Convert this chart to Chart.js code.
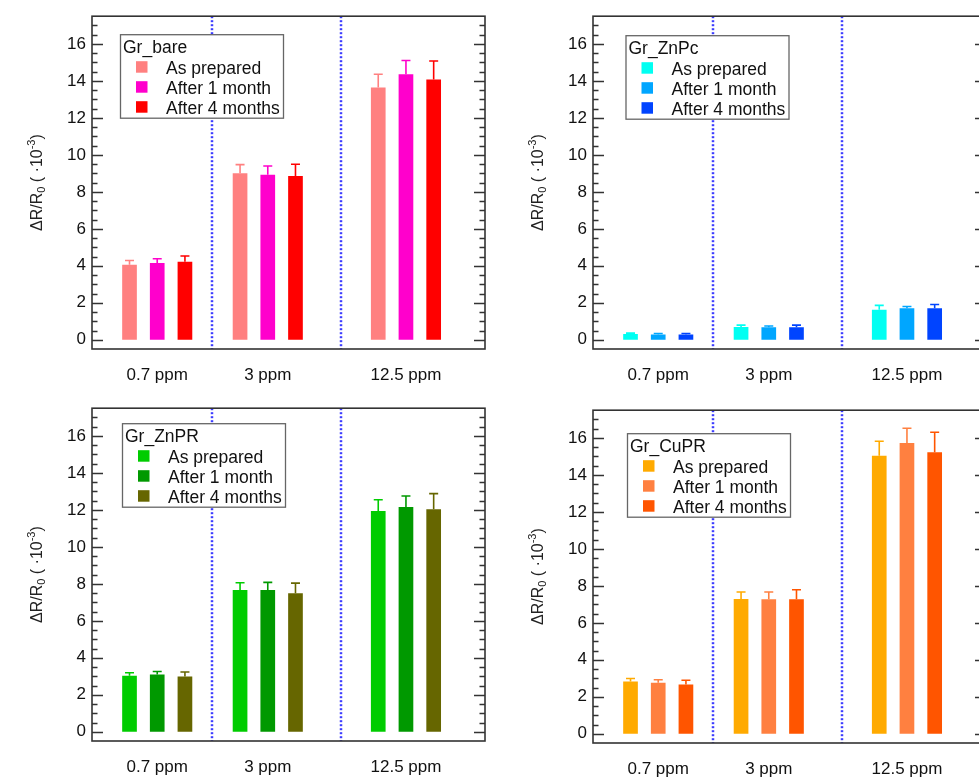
<!DOCTYPE html>
<html>
<head>
<meta charset="utf-8">
<script src="https://cdn.jsdelivr.net/npm/chart.js@4.4.1/dist/chart.umd.min.js"></script>
<style>
  html, body { margin: 0; padding: 0; background: #fff; overflow: hidden; width: 979px; height: 778px; }
  canvas { position: absolute; }
</style>
</head>
<body>
<canvas id="bareChart" width="500" height="390" style="left:0px;top:0px"></canvas>
<canvas id="znpcChart" width="500" height="390" style="left:501px;top:0px"></canvas>
<canvas id="znprChart" width="500" height="390" style="left:0px;top:392px"></canvas>
<canvas id="cuprChart" width="500" height="390" style="left:501px;top:394px"></canvas>
<script>
// categorias e séries
const CATEGORIES = ["0.7 ppm", "3 ppm", "12.5 ppm"];
const SERIES = ["As prepared", "After 1 month", "After 4 months"];
const Y_TICKS = [0, 2, 4, 6, 8, 10, 12, 14, 16];

// valores (ΔR/R0 · 10^-3), uma linha por série
const bareValues = [[4.06, 9.00, 13.65], [4.15, 8.93, 14.36], [4.22, 8.86, 14.07]];
const bareErrors = [[0.23, 0.47, 0.71], [0.23, 0.47, 0.74], [0.31, 0.63, 1.01]];

const znpcValues = [[0.31, 0.69, 1.62], [0.29, 0.67, 1.70], [0.29, 0.67, 1.70]];
const znpcErrors = [[0.05, 0.10, 0.24], [0.05, 0.07, 0.10], [0.05, 0.12, 0.21]];

const znprValues = [[3.03, 7.67, 11.94], [3.10, 7.67, 12.16], [2.99, 7.49, 12.03]];
const znprErrors = [[0.16, 0.39, 0.61], [0.16, 0.41, 0.59], [0.24, 0.55, 0.85]];

const cuprValues = [[2.83, 7.29, 15.04], [2.76, 7.27, 15.73], [2.67, 7.27, 15.22]];
const cuprErrors = [[0.16, 0.38, 0.78], [0.16, 0.40, 0.79], [0.22, 0.52, 1.09]];

// posição de cada grupo no eixo x (o último grupo fica mais afastado) e separadores
const GROUP_POS = [1, 2, 3.25];
const SEPARATORS = [1.5, 2.665];
const X_MIN = 0.41;
const X_MAX = 3.965;

const FONT = '"Liberation Sans", Arial, sans-serif';
const TEXT_COLOR = "#111";

/**
 * Desenha o título do eixo y com subscrito e sobrescrito.
 */
function drawYTitle(ctx, x, yCenter) {
  const parts = [
    { t: "\u0394R/R", size: 16, dy: 0 },
    { t: "0", size: 11, dy: 3.5 },
    { t: " ( \u00b710", size: 16, dy: 0 },
    { t: "-3", size: 11, dy: -7 },
    { t: ")", size: 16, dy: 0 },
  ];
  ctx.save();
  let total = 0;
  parts.forEach((p) => {
    ctx.font = `${p.size}px ${FONT}`;
    p.w = ctx.measureText(p.t).width;
    total += p.w;
  });
  ctx.translate(x, yCenter);
  ctx.rotate(-Math.PI / 2);
  ctx.fillStyle = "#222";
  ctx.textBaseline = "alphabetic";
  let cx = -total / 2;
  parts.forEach((p) => {
    ctx.font = `${p.size}px ${FONT}`;
    ctx.fillText(p.t, cx, p.dy);
    cx += p.w;
  });
  ctx.restore();
}

// plugin: linhas pontilhadas, barras de erro, legenda em caixa, moldura e ticks internos
const panelDecor = {
  id: "panelDecor",
  beforeDatasetsDraw(chart) {
    const { ctx, chartArea, scales } = chart;
    ctx.save();
    ctx.strokeStyle = "#3c3cff";
    ctx.lineWidth = 2.5;
    ctx.setLineDash([2, 2]);
    SEPARATORS.forEach((v) => {
      const px = Math.round(scales.x.getPixelForValue(v));
      ctx.beginPath();
      ctx.moveTo(px, chartArea.top);
      ctx.lineTo(px, chartArea.bottom);
      ctx.stroke();
    });
    ctx.restore();
  },
  afterDatasetsDraw(chart, args, opts) {
    const { ctx, chartArea, scales } = chart;
    const yScale = scales.y;

    // barras de erro (só para cima)
    chart.data.datasets.forEach((ds, d) => {
      const meta = chart.getDatasetMeta(d);
      ctx.save();
      ctx.strokeStyle = ds.backgroundColor;
      ctx.lineWidth = 1.6;
      meta.data.forEach((bar, i) => {
        const top = yScale.getPixelForValue(ds.data[i].y + ds.errors[i]);
        ctx.beginPath();
        ctx.moveTo(bar.x, bar.y);
        ctx.lineTo(bar.x, top);
        ctx.moveTo(bar.x - 4.5, top);
        ctx.lineTo(bar.x + 4.5, top);
        ctx.stroke();
      });
      ctx.restore();
    });

    // legenda
    const bx = chartArea.left + opts.legendX;
    const by = chartArea.top + opts.legendY;
    ctx.save();
    ctx.fillStyle = "#fff";
    ctx.fillRect(bx, by, 163, 83.5);
    ctx.strokeStyle = "#666";
    ctx.lineWidth = 1.3;
    ctx.strokeRect(bx, by, 163, 83.5);
    ctx.font = `17.5px ${FONT}`;
    ctx.fillStyle = TEXT_COLOR;
    ctx.textBaseline = "alphabetic";
    ctx.fillText(opts.name, bx + 2.5, by + 18);
    chart.data.datasets.forEach((ds, d) => {
      ctx.fillStyle = ds.backgroundColor;
      ctx.fillRect(bx + 15.5, by + 26.5 + 20 * d, 11.5, 11.5);
      ctx.fillStyle = TEXT_COLOR;
      ctx.fillText(ds.label, bx + 45.5, by + 39 + 20 * d);
    });
    ctx.restore();

    // moldura e ticks para dentro nos dois lados
    ctx.save();
    ctx.strokeStyle = "#333";
    ctx.lineWidth = 1.6;
    ctx.strokeRect(chartArea.left, chartArea.top, chartArea.right - chartArea.left, chartArea.bottom - chartArea.top);
    ctx.lineWidth = 1.4;
    ctx.beginPath();
    for (let v = 0; v <= 17; v += 0.5) {
      const py = Math.round(yScale.getPixelForValue(v)) + 0.5;
      const len = v % 2 === 0 ? 11 : 5.5;
      ctx.moveTo(chartArea.left, py);
      ctx.lineTo(chartArea.left + len, py);
      ctx.moveTo(chartArea.right, py);
      ctx.lineTo(chartArea.right - len, py);
    }
    ctx.stroke();
    ctx.restore();

    drawYTitle(ctx, 41.5, (chartArea.top + chartArea.bottom) / 2);
  },
};

/**
 * Cria um painel (um material) com as três séries.
 */
function makePanel(canvasId, name, colors, values, errors, legendX, legendY) {
  const datasets = SERIES.map((label, s) => ({
    label,
    data: values[s].map((v, i) => ({ x: GROUP_POS[i], y: v })),
    errors: errors[s],
    backgroundColor: colors[s],
    borderWidth: 0,
    categoryPercentage: 0.752,
    barPercentage: 0.53,
  }));

  return new Chart(document.getElementById(canvasId), {
    type: "bar",
    data: { datasets },
    options: {
      responsive: false,
      animation: false,
      devicePixelRatio: 1,
      layout: { padding: { top: 16, right: 15, left: 0, bottom: 0 } },
      plugins: {
        legend: { display: false },
        tooltip: { enabled: false },
        panelDecor: { name, legendX, legendY },
      },
      scales: {
        x: {
          type: "linear",
          min: X_MIN,
          max: X_MAX,
          offset: false,
          grid: { display: false, drawTicks: false },
          border: { display: false },
          afterBuildTicks: (scale) => {
            scale.ticks = GROUP_POS.map((v) => ({ value: v }));
          },
          afterFit: (scale) => {
            scale.height = 41;
          },
          ticks: {
            padding: 16,
            autoSkip: false,
            maxRotation: 0,
            color: TEXT_COLOR,
            font: { family: FONT, size: 17 },
            callback: (value, index) => CATEGORIES[index],
          },
        },
        y: {
          min: -0.5,
          max: 17.5,
          grid: { display: false, drawTicks: false },
          border: { display: false },
          afterBuildTicks: (scale) => {
            scale.ticks = Y_TICKS.map((v) => ({ value: v }));
          },
          afterFit: (scale) => {
            scale.width = 92;
          },
          ticks: {
            padding: 6,
            color: TEXT_COLOR,
            font: { family: FONT, size: 17 },
          },
        },
      },
    },
    plugins: [panelDecor],
  });
}

makePanel("bareChart", "Gr_bare", ["#ff8080", "#ff00cc", "#ff0000"], bareValues, bareErrors, 28.5, 18.5);
makePanel("znpcChart", "Gr_ZnPc", ["#00fff2", "#00a6ff", "#0044ff"], znpcValues, znpcErrors, 33, 19.5);
makePanel("znprChart", "Gr_ZnPR", ["#00cc00", "#009900", "#666600"], znprValues, znprErrors, 30.5, 15.5);
makePanel("cuprChart", "Gr_CuPR", ["#ffaa00", "#ff8040", "#ff5500"], cuprValues, cuprErrors, 34.5, 23.5);
</script>
</body>
</html>
